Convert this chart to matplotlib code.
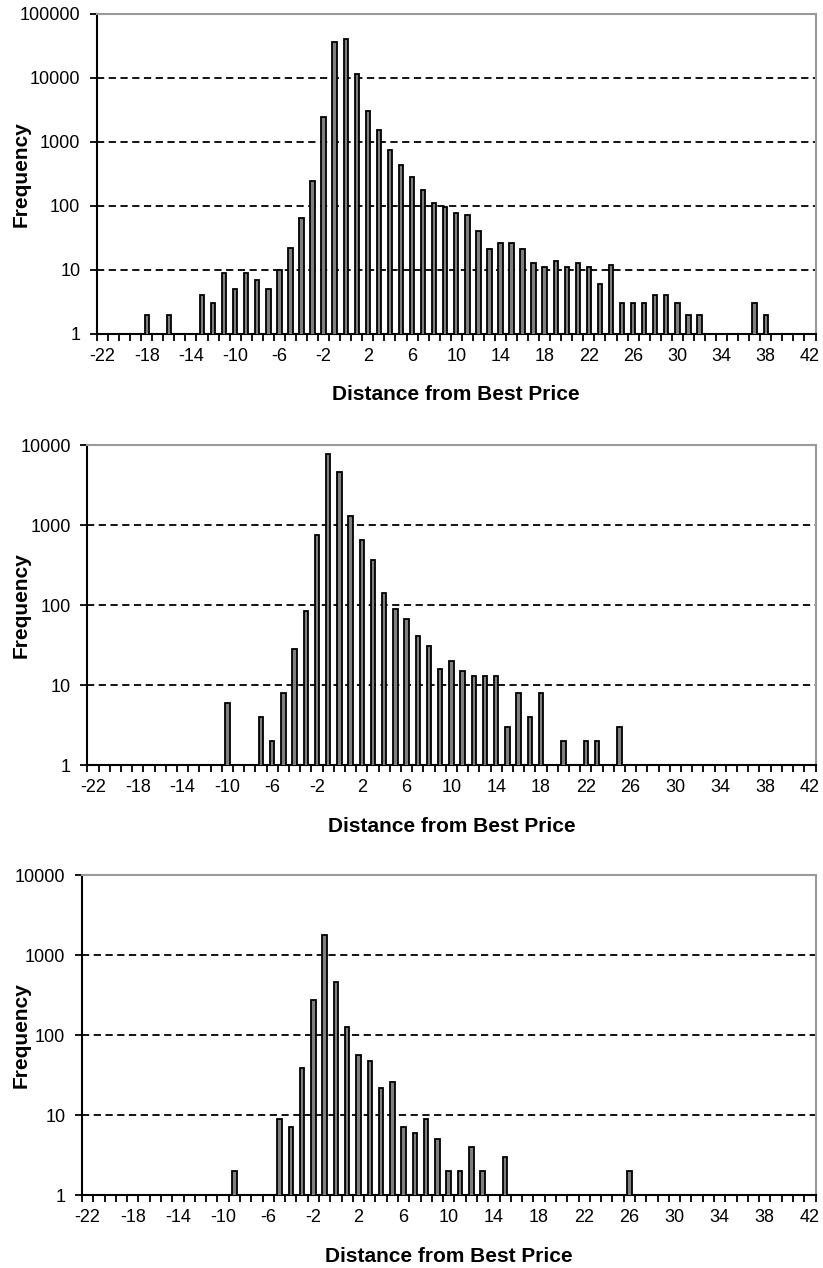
import numpy as np
import matplotlib
matplotlib.use("Agg")
import matplotlib.pyplot as plt
from matplotlib.ticker import FixedLocator, NullLocator

plt.rcParams['font.family'] = ['Liberation Sans', 'DejaVu Sans']

# distance from best price, one bar per tick (-22 .. 42)
distance = np.arange(-22, 43)
tick_labels = [str(v) for v in range(-22, 43, 4)]

#           -22 ........................................ -13
freq_a = [0, 0, 0, 0, 2, 0, 2, 0, 0, 4,
          # -12 .. -3
          3, 9, 5, 9, 7, 5, 10, 22, 65, 250,
          # -2 .. 7
          2500, 37000, 41000, 11500, 3000, 1550, 750, 440, 280, 180,
          # 8 .. 17
          112, 98, 79, 73, 41, 21, 26, 26, 21, 13,
          # 18 .. 27
          11, 14, 11, 13, 11, 6, 12, 3, 3, 3,
          # 28 .. 37
          4, 4, 3, 2, 2, 0, 0, 0, 0, 3,
          # 38 .. 42
          2, 0, 0, 0, 0]

freq_b = [0, 0, 0, 0, 0, 0, 0, 0, 0, 0,
          0, 0, 6, 0, 0, 4, 2, 8, 28, 85,
          760, 7800, 4600, 1300, 650, 370, 140, 90, 66, 41,
          31, 16, 20, 15, 13, 13, 13, 3, 8, 4,
          8, 0, 2, 0, 2, 2, 0, 3, 0, 0,
          0, 0, 0, 0, 0, 0, 0, 0, 0, 0,
          0, 0, 0, 0, 0]

freq_c = [0, 0, 0, 0, 0, 0, 0, 0, 0, 0,
          0, 0, 0, 2, 0, 0, 0, 9, 7, 39,
          270, 1800, 460, 125, 57, 47, 22, 26, 7, 6,
          9, 5, 2, 2, 4, 2, 0, 3, 0, 0,
          0, 0, 0, 0, 0, 0, 0, 0, 2, 0,
          0, 0, 0, 0, 0, 0, 0, 0, 0, 0,
          0, 0, 0, 0, 0]

panels = [
    (freq_a, 100000, [97, 14, 815.5, 334]),
    (freq_b, 10000, [87.3, 445, 815.5, 765]),
    (freq_c, 10000, [82, 875, 815.5, 1195]),
]

W, H = 823, 1268
fig = plt.figure(figsize=(W / 100, H / 100), dpi=100)

for freq, ytop, (x0, y0, x1, y1) in panels:
    ax = fig.add_axes([x0 / W, 1 - y1 / H, (x1 - x0) / W, (y1 - y0) / H])
    freq = np.array(freq, dtype=float)
    keep = freq > 0
    ax.bar(distance[keep], freq[keep], width=0.4, color='#7f7f7f',
           edgecolor='black', linewidth=1.3, zorder=3)

    ax.set_yscale('log')
    ax.set_ylim(1, ytop)
    ax.set_xlim(-22.5, 42.5)

    decades = [10 ** k for k in range(int(np.log10(ytop)) + 1)]
    ax.yaxis.set_major_locator(FixedLocator(decades))
    ax.yaxis.set_minor_locator(NullLocator())
    ax.set_yticklabels([str(d) for d in decades])
    ax.tick_params(axis='y', which='major', direction='out', length=5,
                   width=1.3, pad=7, labelsize=13)

    ax.xaxis.set_major_locator(FixedLocator(list(range(-22, 43, 4))))
    ax.set_xticklabels(tick_labels)
    ax.xaxis.set_minor_locator(FixedLocator(list(np.arange(-22.5, 43, 1.0))))
    ax.tick_params(axis='x', which='major', length=0, pad=10, labelsize=13)
    ax.tick_params(axis='x', which='minor', direction='out', length=5, width=1.3)

    for d in decades[1:-1]:
        ax.axhline(d, color='black', lw=1.3, linestyle=(0, (4, 2.5)), zorder=1)

    for side in ['left', 'bottom']:
        ax.spines[side].set_color('black')
        ax.spines[side].set_linewidth(1.5)
    for side in ['top', 'right']:
        ax.spines[side].set_color('#9a9a9a')
        ax.spines[side].set_linewidth(1.5)

    ax.text(-(x0 - 21) / (x1 - x0), 0.5, 'Frequency', transform=ax.transAxes,
            rotation=90, ha='center', va='center', fontsize=15, fontweight='bold')
    ax.text(0.5, -61 / (y1 - y0), 'Distance from Best Price', transform=ax.transAxes,
            ha='center', va='center', fontsize=15, fontweight='bold')

fig.savefig('out.png', dpi=100)
